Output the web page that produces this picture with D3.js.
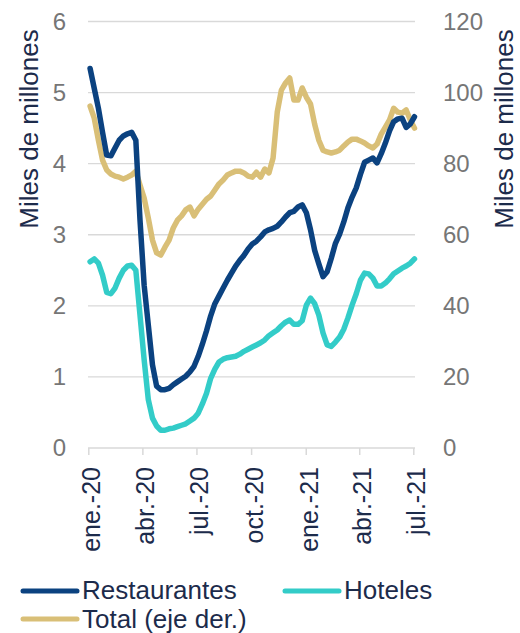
<!DOCTYPE html>
<html>
<head>
<meta charset="utf-8">
<script src="https://cdn.jsdelivr.net/npm/d3@7"></script>
<style>
  html, body { margin: 0; padding: 0; background: #ffffff; }
  svg { display: block; font-family: "Liberation Sans", Arial, sans-serif; }
</style>
</head>
<body>
<svg id="chart" width="520" height="633"></svg>
<script>
// ---- data (weekly readings, starting 4 Jan 2020) ----
const startDate = "2020-01-04";
const restaurantes = [
  5.34, 5.06, 4.78, 4.44, 4.12, 4.11, 4.22, 4.33, 4.39, 4.42,
  4.44, 4.33, 3.21, 2.29, 1.73, 1.17, 0.87, 0.82, 0.82, 0.84,
  0.89, 0.93, 0.97, 1.01, 1.07, 1.15, 1.29, 1.46, 1.65, 1.86,
  2.03, 2.14, 2.25, 2.36, 2.46, 2.56, 2.64, 2.71, 2.80, 2.87,
  2.91, 2.97, 3.04, 3.07, 3.09, 3.12, 3.18, 3.25, 3.31, 3.33,
  3.39, 3.42, 3.31, 3.07, 2.78, 2.59, 2.41, 2.48, 2.67, 2.88,
  3.01, 3.18, 3.38, 3.53, 3.66, 3.85, 4.02, 4.05, 4.08, 4.01,
  4.14, 4.29, 4.46, 4.59, 4.63, 4.64, 4.51, 4.56, 4.66
];
const hoteles = [
  2.62, 2.66, 2.60, 2.43, 2.19, 2.17, 2.25, 2.39, 2.50, 2.56,
  2.57, 2.50, 1.87, 1.24, 0.68, 0.42, 0.31, 0.25, 0.25, 0.27,
  0.28, 0.30, 0.32, 0.34, 0.38, 0.42, 0.49, 0.62, 0.77, 0.98,
  1.11, 1.21, 1.25, 1.27, 1.28, 1.29, 1.32, 1.36, 1.39, 1.42,
  1.45, 1.48, 1.52, 1.58, 1.62, 1.66, 1.72, 1.77, 1.80, 1.74,
  1.74, 1.79, 2.01, 2.11, 2.03, 1.87, 1.62, 1.45, 1.43, 1.49,
  1.56, 1.67, 1.83, 2.01, 2.17, 2.36, 2.46, 2.45, 2.39, 2.28,
  2.28, 2.32, 2.38, 2.45, 2.49, 2.53, 2.56, 2.60, 2.66
];
const total = [
  96.2, 92.8, 86.6, 81.0, 78.2, 77.1, 76.5, 76.2, 75.7, 76.2,
  76.8, 77.9, 74.0, 70.3, 64.7, 58.5, 54.9, 54.3, 56.5, 58.5,
  61.9, 64.1, 65.3, 67.0, 67.8, 65.3, 67.2, 68.6, 70.0, 70.9,
  72.6, 74.3, 75.4, 76.8, 77.4, 77.9, 77.9, 77.4, 76.5, 76.2,
  77.6, 76.2, 78.5, 77.4, 81.6, 94.5, 100.7, 102.7, 104.1, 97.9,
  97.9, 101.3, 98.7, 96.8, 91.1, 86.6, 83.8, 83.3, 83.0, 83.3,
  83.8, 85.0, 86.1, 86.9, 86.9, 86.4, 85.8, 85.0, 84.4, 85.5,
  88.3, 90.3, 92.3, 95.6, 94.5, 94.2, 95.1, 92.3, 90.0
];
const tickDates = ["2020-01-01", "2020-04-01", "2020-07-01", "2020-10-01",
                   "2021-01-01", "2021-04-01", "2021-07-01"];
const tickLabels = ["ene.-20", "abr.-20", "jul.-20", "oct.-20", "ene.-21", "abr.-21", "jul.-21"];
const leftTicks = [0, 1, 2, 3, 4, 5, 6];
const rightTicks = [0, 20, 40, 60, 80, 100, 120];
const seriesNames = ["Restaurantes", "Hoteles", "Total (eje der.)"];
const axisTitle = "Miles de millones";

// ---- setup ----
const parse = d3.utcParse("%Y-%m-%d");
const colors = { rest: "#0b4280", hot: "#33ccc8", tot: "#d9bf77" };
const navyText = "#1c2b4b";
const grayText = "#767676";
const gridColor = "#d9d9d9";

const svg = d3.select("#chart");
const x0 = 88.3, x1 = 413.3, yBot = 448, yTop = 21.5;

const dates = d3.utcDay.range(parse(startDate), d3.utcDay.offset(parse(startDate), 7 * restaurantes.length), 7);

const x = d3.scaleUtc().domain([parse(tickDates[0]), parse(tickDates[tickDates.length - 1])]).range([x0, x1]);
const yL = d3.scaleLinear().domain([0, 6]).range([yBot, yTop]);
const yR = d3.scaleLinear().domain([0, 120]).range([yBot, yTop]);

// gridlines
svg.append("g").selectAll("line").data(leftTicks.filter(d => d > 0)).join("line")
  .attr("x1", 88).attr("x2", 415)
  .attr("y1", d => yL(d)).attr("y2", d => yL(d))
  .attr("stroke", gridColor).attr("stroke-width", 1.3);

// x axis
const xAxis = d3.axisBottom(x)
  .tickValues(tickDates.map(parse))
  .tickFormat((d, i) => tickLabels[i])
  .tickSize(7).tickSizeOuter(0);
const gx = svg.append("g").attr("transform", `translate(0,${yBot})`).call(xAxis);
gx.select(".domain").attr("d", `M88,0H415`).attr("stroke", gridColor).attr("stroke-width", 1.5);
gx.selectAll(".tick line").attr("stroke", gridColor).attr("stroke-width", 1.5);
gx.selectAll(".tick text")
  .attr("transform", "rotate(-90)")
  .attr("x", -19).attr("y", 0).attr("dy", "0.45em")
  .style("text-anchor", "end")
  .attr("fill", navyText)
  .style("font-size", "25px")
  .style("font-family", "'Liberation Sans', Arial, sans-serif");

// left axis
const gl = svg.append("g").attr("transform", "translate(66,0)")
  .call(d3.axisLeft(yL).tickValues(leftTicks).tickFormat(d3.format("d")).tickSize(0).tickPadding(0));
gl.select(".domain").remove();
gl.selectAll("text").attr("fill", grayText).style("font-size", "24px")
  .style("font-family", "'Liberation Sans', Arial, sans-serif");

// right axis
const gr = svg.append("g").attr("transform", "translate(443,0)")
  .call(d3.axisRight(yR).tickValues(rightTicks).tickFormat(d3.format("d")).tickSize(0).tickPadding(0));
gr.select(".domain").remove();
gr.selectAll("text").attr("fill", grayText).style("font-size", "24px")
  .style("font-family", "'Liberation Sans', Arial, sans-serif");

// axis titles
svg.append("text").attr("transform", "translate(38,129) rotate(-90)")
  .attr("text-anchor", "middle").attr("fill", navyText).style("font-size", "26px").text(axisTitle);
svg.append("text").attr("transform", "translate(513,129) rotate(-90)")
  .attr("text-anchor", "middle").attr("fill", navyText).style("font-size", "26px").text(axisTitle);

// lines
const lineL = d3.line().x((d, i) => x(dates[i])).y(d => yL(d));
const lineR = d3.line().x((d, i) => x(dates[i])).y(d => yR(d));
const lineStyle = sel => sel.attr("fill", "none").attr("stroke-width", 5.5)
  .attr("stroke-linejoin", "round").attr("stroke-linecap", "round");

svg.append("path").datum(total).attr("d", lineR).attr("stroke", colors.tot).call(lineStyle);
svg.append("path").datum(hoteles).attr("d", lineL).attr("stroke", colors.hot).call(lineStyle);
svg.append("path").datum(restaurantes).attr("d", lineL).attr("stroke", colors.rest).call(lineStyle);

// legend
const legendItems = [
  { name: seriesNames[0], color: colors.rest, lx: 23, ly: 591, ty: 599 },
  { name: seriesNames[1], color: colors.hot, lx: 285, ly: 591, ty: 599 },
  { name: seriesNames[2], color: colors.tot, lx: 23, ly: 619, ty: 628 }
];
const lg = svg.append("g");
legendItems.forEach(it => {
  lg.append("line").attr("x1", it.lx).attr("x2", it.lx + 54)
    .attr("y1", it.ly).attr("y2", it.ly)
    .attr("stroke", it.color).attr("stroke-width", 5).attr("stroke-linecap", "round");
  lg.append("text").attr("x", it.lx + 59).attr("y", it.ty)
    .attr("fill", navyText).style("font-size", "26px").text(it.name);
});
</script>
</body>
</html>
